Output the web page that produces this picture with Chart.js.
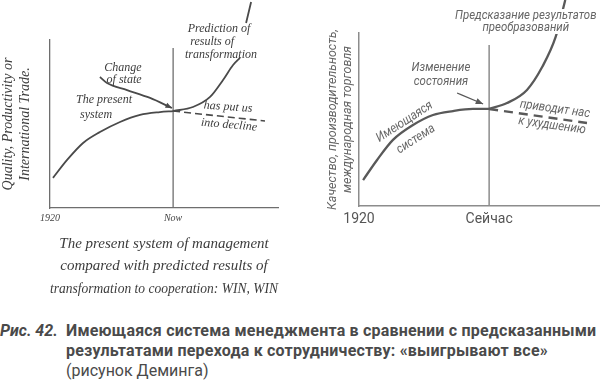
<!DOCTYPE html>
<html>
<head>
<meta charset="utf-8">
<script src="https://cdn.jsdelivr.net/npm/chart.js@4.4.1/dist/chart.umd.min.js"></script>
<style>
  body { margin: 0; background: #fff; width: 600px; height: 386px; position: relative; overflow: hidden; }
  #left { position: absolute; left: 0; top: 0; }
  #right { position: absolute; left: 300px; top: 0; }
  #caption { position: absolute; left: 0; top: 321px; width: 600px; color: #4a4a4a;
             font-family: Roboto, "Noto Sans", sans-serif; font-size: 16px; line-height: 20px; letter-spacing: 0.2px; }
  #caption .num { position: absolute; left: 0; top: 0; font-weight: bold; font-style: italic; letter-spacing: 0; }
  #caption .body { margin-left: 66px; font-weight: bold; white-space: nowrap; }
  #caption .reg { font-weight: normal; letter-spacing: 0; }
</style>
</head>
<body>
<canvas id="left" width="300" height="300"></canvas>
<canvas id="right" width="300" height="290"></canvas>
<div id="caption">
  <span class="num">Рис. 42.</span>
  <div class="body">Имеющаяся система менеджмента в сравнении с предсказанными<br>результатами перехода к сотрудничеству: «выигрывают все»<br><span class="reg">(рисунок Деминга)</span></div>
</div>
<script>
// time axis: 0 = 1920, NOW = today, values are relative level (0..100)
const NOW = 54;

// right chart (typeset, Russian)
const rTickValues = [0, NOW];
const rTickLabels = ['1920', 'Сейчас'];
const rPresentX = [1.7, 7.5, 14.1, 22.4, 30.7, 39.0, 47.3, NOW];
const rPresentY = [15.0, 26.6, 38.2, 46.8, 52.6, 54.9, 56.1, 56.1];
const rPredX = [NOW, 61.4, 69.7, 76.0, 81.6, 85.6];
const rPredY = [56.1, 59.5, 67.1, 80.3, 97.7, 119.1];
const rDeclineX = [NOW, 94.6];
const rDeclineY = [56.1, 48.0];
const rNowY = [0, 93.1];
const rArrowX = [40.7, 51.5];
const rArrowY = [65.3, 59.0];

// left chart (Deming's hand drawing)
const lTickValues = [0, NOW];
const lTickLabels = ['1920', 'Now'];
const lPresentX = [1.3, 7.5, 14.5, 21.9, 30.7, 39.5, 48.2, NOW];
const lPresentY = [17.9, 28.6, 38.7, 45.2, 51.2, 55.4, 57.1, 57.7];
const lPredX = [NOW, 62.7, 70.2, 75.9, 80.3, 83.3, 84.6, 86.0, 88.2];
const lPredY = [57.7, 60.1, 66.1, 76.2, 85.1, 89.3, null, 110.1, 122.6];
const lDeclineX = [NOW, 94.3];
const lDeclineY = [57.7, 51.8];
const lNowY = [0, 95.2];
const lArrowX = [21.9, 25.0, 33.8, 43.9, 53.5];
const lArrowY = [78.0, 74.4, 70.2, 65.5, 59.5];

const pts = (xs, ys) => xs.map((x, i) => ({ x: x, y: ys[i] }));

// draws the text notes and the arrow heads
const notes = {
  id: 'notes',
  afterDatasetsDraw(chart, args, opts) {
    const { ctx } = chart;
    const x = chart.scales.x, y = chart.scales.y;
    ctx.save();
    chart.data.datasets.forEach((ds, i) => {
      if (!ds.arrow) return;
      const d = chart.getDatasetMeta(i).data;
      const a = d[d.length - 2], b = d[d.length - 1];
      const ang = Math.atan2(b.y - a.y, b.x - a.x);
      const s = opts.head;
      ctx.fillStyle = ds.borderColor;
      ctx.beginPath();
      ctx.moveTo(b.x, b.y);
      ctx.lineTo(b.x - s * Math.cos(ang - 0.4), b.y - s * Math.sin(ang - 0.4));
      ctx.lineTo(b.x - s * Math.cos(ang + 0.4), b.y - s * Math.sin(ang + 0.4));
      ctx.closePath();
      ctx.fill();
    });
    ctx.font = opts.font;
    ctx.textAlign = 'center';
    ctx.textBaseline = 'middle';
    ctx.lineJoin = 'round';
    opts.items.forEach(t => {
      ctx.save();
      ctx.translate(x.getPixelForValue(t.x), y.getPixelForValue(t.y));
      ctx.rotate((t.rot || 0) * Math.PI / 180);
      ctx.scale(opts.squeeze, 1);
      if (t.halo) {
        ctx.strokeStyle = '#fff';
        ctx.lineWidth = 6;
        ctx.strokeText(t.text, 0, 0);
      }
      ctx.fillStyle = opts.color;
      ctx.fillText(t.text, 0, 0);
      ctx.restore();
    });
    ctx.restore();
  }
};

function makeChart(id, cfg) {
  const line = (data, extra) => Object.assign({
    data: data, borderColor: cfg.lineColor, borderWidth: cfg.lineWidth,
    pointRadius: 0, fill: false, clip: false, cubicInterpolationMode: 'monotone'
  }, extra);

  return new Chart(document.getElementById(id), {
    type: 'line',
    data: {
      datasets: [
        line(pts(cfg.presentX, cfg.presentY)),
        line(pts(cfg.predX, cfg.predY), { spanGaps: false }),
        line(pts(cfg.declineX, cfg.declineY), { borderDash: cfg.dash, borderWidth: cfg.dashWidth }),
        line(pts([NOW, NOW], cfg.nowY), { borderColor: cfg.axisColor, borderWidth: cfg.axisWidth }),
        line(pts(cfg.arrowX, cfg.arrowY), { borderWidth: cfg.arrowWidth, arrow: true })
      ]
    },
    options: {
      responsive: false,
      animation: false,
      events: [],
      layout: { padding: cfg.padding },
      plugins: {
        legend: { display: false },
        tooltip: { enabled: false },
        notes: { items: cfg.notes, font: cfg.noteFont, color: cfg.noteColor, head: cfg.head, squeeze: cfg.squeeze }
      },
      scales: {
        x: {
          type: 'linear', min: 0, max: 100,
          grid: { display: false, drawTicks: false },
          border: { display: true, color: cfg.axisColor, width: cfg.axisWidth },
          afterBuildTicks: s => { s.ticks = cfg.tickValues.map(v => ({ value: v })); },
          afterFit: s => { s.height = cfg.xHeight; },
          ticks: {
            autoSkip: false, maxRotation: 0, padding: cfg.tickPad,
            color: cfg.tickColor, font: cfg.tickFont,
            callback: v => cfg.tickLabels[cfg.tickValues.indexOf(v)]
          },
          title: cfg.xTitle || { display: false }
        },
        y: {
          min: 0, max: 100,
          grid: { display: false, drawTicks: false },
          border: { display: true, color: cfg.axisColor, width: cfg.axisWidth },
          ticks: { display: false },
          afterFit: s => { s.width = cfg.yWidth; },
          title: cfg.yTitle
        }
      }
    },
    plugins: [notes]
  });
}

makeChart('right', {
  tickValues: rTickValues, tickLabels: rTickLabels,
  presentX: rPresentX, presentY: rPresentY, predX: rPredX, predY: rPredY,
  declineX: rDeclineX, declineY: rDeclineY, nowY: rNowY, arrowX: rArrowX, arrowY: rArrowY,
  lineColor: '#595959', lineWidth: 2.3, dash: [9, 6], dashWidth: 2.4,
  axisColor: '#8c8c8c', axisWidth: 1.5, arrowWidth: 1.2, head: 8,
  padding: { top: 33, right: 0, bottom: 0, left: 0 },
  xHeight: 84, yWidth: 59, tickPad: 5,
  tickColor: '#555', tickFont: { family: 'Roboto', size: 14 },
  yTitle: {
    display: true, color: '#666', padding: { top: 25, bottom: 0 },
    font: { family: 'Roboto', size: 12.5, style: 'italic', lineHeight: 1.2 },
    text: ['Качество, производительность,', 'международная торговля']
  },
  noteFont: 'italic 13px Roboto', noteColor: '#666', squeeze: 0.88,
  notes: [
    { text: 'Предсказание результатов', x: 69.2, y: 110.2, halo: true },
    { text: 'преобразований', x: 69.2, y: 102.9, halo: true },
    { text: 'Изменение', x: 34.0, y: 79.8 },
    { text: 'состояния', x: 34.0, y: 71.7 },
    { text: 'Имеющаяся', x: 18.9, y: 48.6, rot: -33 },
    { text: 'система', x: 23.6, y: 38.6, rot: -33 },
    { text: 'приводит нас', x: 81.3, y: 56.0, rot: 8 },
    { text: 'к ухудшению', x: 80.1, y: 46.5, rot: 8 }
  ]
});

makeChart('left', {
  tickValues: lTickValues, tickLabels: lTickLabels,
  presentX: lPresentX, presentY: lPresentY, predX: lPredX, predY: lPredY,
  declineX: lDeclineX, declineY: lDeclineY, nowY: lNowY, arrowX: lArrowX, arrowY: lArrowY,
  lineColor: '#4a4a4a', lineWidth: 1.8, dash: [7, 4], dashWidth: 1.6,
  axisColor: '#6e6e6e', axisWidth: 1.3, arrowWidth: 1.8, head: 7,
  padding: { top: 40, right: 22, bottom: 0, left: 0 },
  xHeight: 92, yWidth: 50, tickPad: 4,
  tickColor: '#444', tickFont: { family: 'Liberation Serif', size: 10, style: 'italic' },
  xTitle: {
    display: true, color: '#3c3c3c', padding: { top: 0, bottom: 0 },
    font: { family: 'Liberation Serif', size: 15, style: 'italic', lineHeight: 1.5 },
    text: ['The present system of management', 'compared with predicted results of', 'transformation to cooperation: WIN, WIN']
  },
  yTitle: {
    display: true, color: '#3c3c3c', padding: { top: 0, bottom: 0 },
    font: { family: 'Liberation Serif', size: 14, style: 'italic', lineHeight: 1.2 },
    text: ['Quality, Productivity or', 'International Trade.']
  },
  noteFont: 'italic 12px "Liberation Serif"', noteColor: '#3c3c3c', squeeze: 1,
  notes: [
    { text: 'Prediction of', x: 74.1, y: 106.5 },
    { text: 'results of', x: 71.1, y: 98.8 },
    { text: 'transformation', x: 75.0, y: 91.1 },
    { text: 'Change', x: 32.0, y: 83.3 },
    { text: 'of state', x: 32.5, y: 76.2 },
    { text: 'The present', x: 23.7, y: 64.3 },
    { text: 'system', x: 20.2, y: 55.4 },
    { text: 'has put us', x: 78.1, y: 60.1, rot: 4 },
    { text: 'into decline', x: 78.5, y: 49.4, rot: 5 }
  ]
});
</script>
</body>
</html>
